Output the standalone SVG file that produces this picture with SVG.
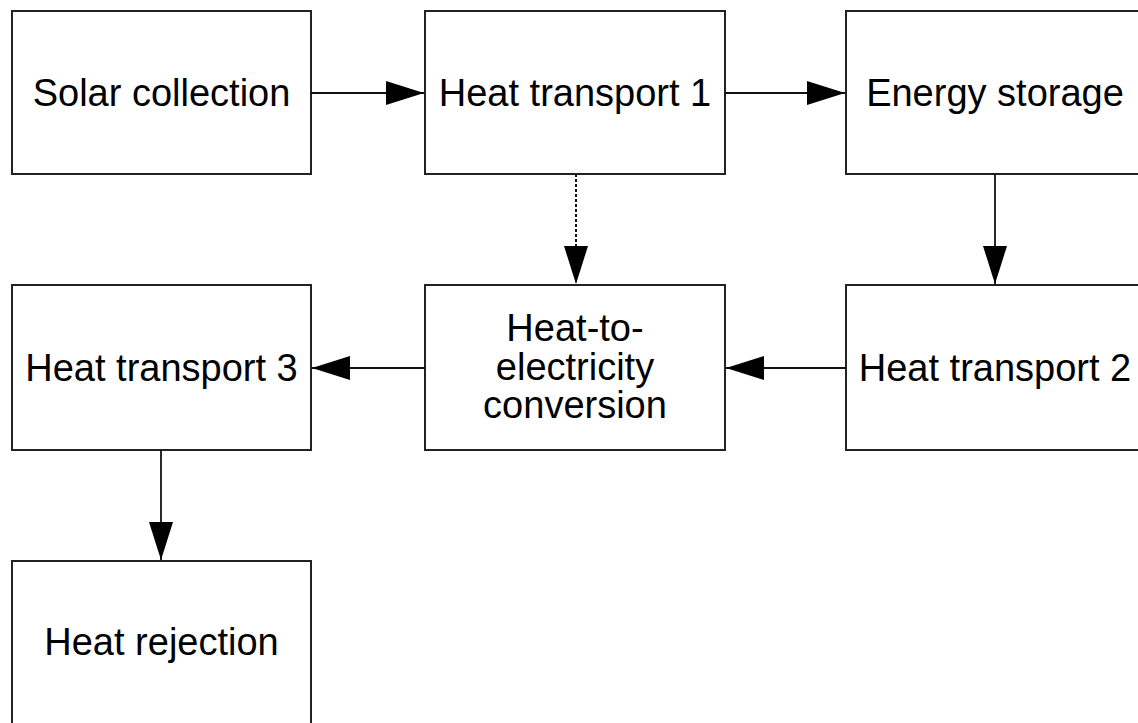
<svg xmlns="http://www.w3.org/2000/svg" width="1138" height="723" viewBox="0 0 1138 723">
<style>
.box{fill:#fff;stroke:#222;stroke-width:2}
.lbl{font-family:"Liberation Sans",Arial,sans-serif;font-size:38px;fill:#000;text-anchor:middle}
.conn{stroke:#111;stroke-width:1.8;fill:none}
.dash{stroke-dasharray:3,2;stroke-width:2}
</style>
<defs>
<marker id="ah" markerUnits="userSpaceOnUse" markerWidth="40" markerHeight="26" refX="38" refY="12" orient="auto">
<path d="M0,0 L38,12 L0,24 z" fill="#000"/>
</marker>
</defs>
<rect width="1138" height="723" fill="#fff"/>
<g id="n-solar"><rect class="box" x="12" y="11" width="299" height="163"/><text class="lbl" x="161.5" y="106">Solar collection</text></g>
<g id="n-ht1"><rect class="box" x="425" y="11" width="300" height="163"/><text class="lbl" x="575" y="106">Heat transport 1</text></g>
<g id="n-storage"><rect class="box" x="846" y="11" width="300" height="163"/><text class="lbl" x="995" y="106">Energy storage</text></g>
<g id="n-ht3"><rect class="box" x="12" y="285" width="299" height="165"/><text class="lbl" x="161.5" y="381">Heat transport 3</text></g>
<g id="n-conv"><rect class="box" x="425" y="285" width="300" height="165"/><text class="lbl" x="575" y="341">Heat-to-</text><text class="lbl" x="575" y="380">electricity</text><text class="lbl" x="575" y="418">conversion</text></g>
<g id="n-ht2"><rect class="box" x="846" y="285" width="300" height="165"/><text class="lbl" x="995" y="381">Heat transport 2</text></g>
<g id="n-reject"><rect class="box" x="12" y="561" width="299" height="170"/><text class="lbl" x="161.5" y="655">Heat rejection</text></g>
<g id="connectors">
<line class="conn" x1="311" y1="93" x2="424" y2="93" marker-end="url(#ah)"/>
<line class="conn" x1="725" y1="93" x2="845" y2="93" marker-end="url(#ah)"/>
<line class="conn" x1="995" y1="174" x2="995" y2="284" marker-end="url(#ah)"/>
<line class="conn dash" x1="576" y1="174" x2="576" y2="284" marker-end="url(#ah)"/>
<line class="conn" x1="846" y1="368" x2="726" y2="368" marker-end="url(#ah)"/>
<line class="conn" x1="425" y1="368" x2="312" y2="368" marker-end="url(#ah)"/>
<line class="conn" x1="161" y1="450" x2="161" y2="560" marker-end="url(#ah)"/>
</g>
</svg>
